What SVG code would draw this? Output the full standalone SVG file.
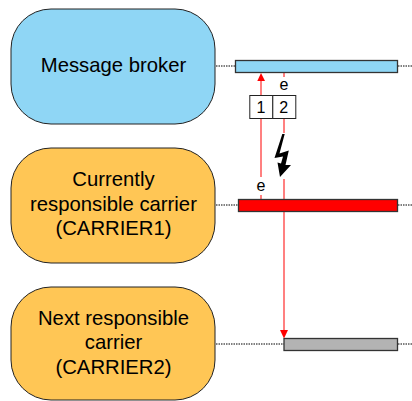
<svg xmlns="http://www.w3.org/2000/svg" width="412" height="401" viewBox="0 0 412 401">
<style>
text{font-family:"Liberation Sans",Arial,sans-serif;fill:#000;text-anchor:middle}
.n{font-size:20.3px}
.s{font-size:16px}
.node{stroke:#222;stroke-width:1}
.bar{stroke:#333;stroke-width:1.3}
.life{stroke:#000;stroke-width:1;stroke-dasharray:1.5 1;fill:none}
.msg{stroke:#ff8080;stroke-width:2;fill:none}
.head{fill:#f00}
</style>
<g id="connectors">
<path class="life" d="M216 66H235M398 66H412M216 205H238M398 205H412M216 344H284M398 344H412"/>
<path class="msg" d="M261 199V195M261 177V118M261 95V78"/>
<path class="head" d="M257.300 81 L261 73 L265 81 Z"/>
<path class="msg" d="M284 73V77M284 118V133M284 179V332"/>
<path class="head" d="M280 330 L284 338.500 L288 330 Z"/>
</g>
<g id="broker"><rect class="node" x="11" y="9" width="204" height="115" rx="40" ry="40" fill="#8fd6f5"/><text class="n" x="113.500" y="71.500">Message broker</text></g>
<g id="carrier1"><rect class="node" x="11" y="148" width="204" height="115" rx="40" ry="40" fill="#ffc655"/><text class="n" x="113.500" y="186">Currently</text><text class="n" x="113.500" y="211">responsible carrier</text><text class="n" x="113.500" y="235">(CARRIER1)</text></g>
<g id="carrier2"><rect class="node" x="11" y="287" width="204" height="113" rx="40" ry="40" fill="#ffc655"/><text class="n" x="113.500" y="324.500">Next responsible</text><text class="n" x="113.500" y="349">carrier</text><text class="n" x="113.500" y="374">(CARRIER2)</text></g>
<g id="bar-broker"><rect class="bar" x="235.500" y="60.500" width="162" height="12" fill="#8fd6f5"/></g>
<g id="bar-carrier1"><rect class="bar" x="238.500" y="199.500" width="159" height="12" fill="#f00"/></g>
<g id="bar-carrier2"><rect class="bar" x="284" y="338.500" width="113.500" height="12" fill="#b3b3b3"/></g>
<g id="box-1"><rect x="249.800" y="95.500" width="23" height="23" fill="#fff" stroke="#222"/><text class="s" x="261" y="112.500">1</text></g>
<g id="box-2"><rect x="272.800" y="95.500" width="23" height="23" fill="#fff" stroke="#222"/><text class="s" x="283.800" y="112.500">2</text></g>
<text class="s" x="284" y="89.500">e</text>
<text class="s" x="261" y="191">e</text>
<path id="lightning" d="M282.300 134 L284.700 134 L279.500 153.500 L288.800 150.500 L285.500 165 L291 165 L280 177 L277.500 162.500 L281 163.500 L283 156.500 L274.500 158 Z" fill="#000"/>
</svg>
